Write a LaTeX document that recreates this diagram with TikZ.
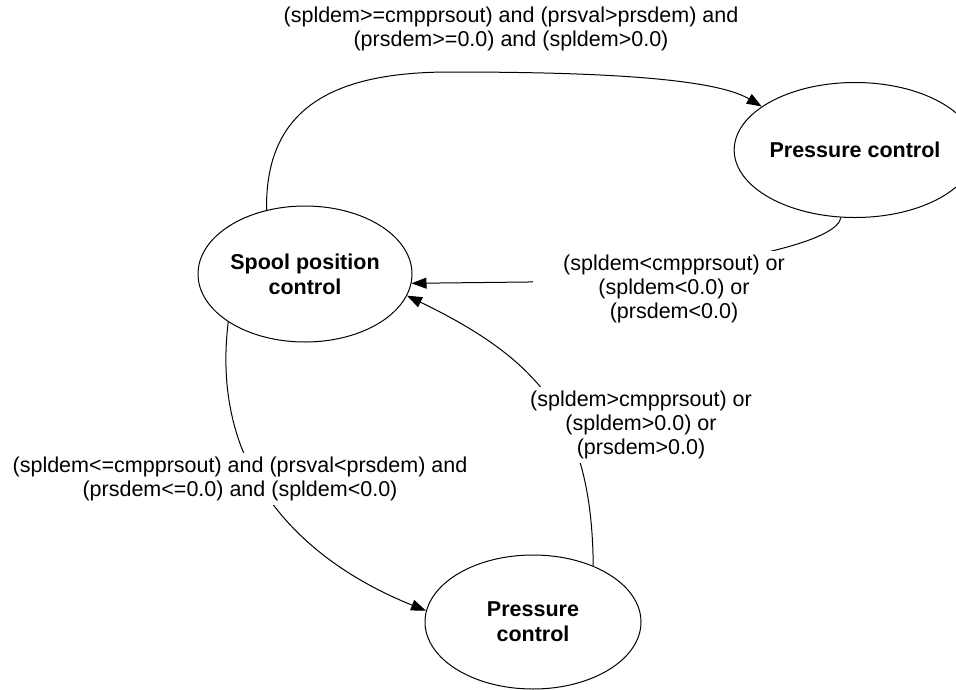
\documentclass[tikz,border=0pt]{standalone}
\usepackage{fontspec}
\setmainfont{Liberation Sans}
\usetikzlibrary{shapes.geometric,arrows.meta}
\tikzset{
  mode/.style={ellipse,draw,line width=1pt,inner sep=0pt,font=\fontsize{21.5}{25}\selectfont\bfseries,align=center},
  guard/.style={font=\fontsize{21.5}{24}\selectfont,align=center,fill=white,inner xsep=4pt,inner ysep=4pt},
  trans/.style={-{Triangle[length=15pt,width=11pt]},line width=1pt},
}

\begin{document}
\begin{tikzpicture}[x=1pt,y=-1pt]
  \useasboundingbox (0,0) rectangle (956,689);
  \node[mode,minimum width=214pt,minimum height=136pt] (spool) at (305,274) {Spool position\\control};
  \node[mode,minimum width=202pt,minimum height=135pt] (presA) at (855,150) {Pressure control};
  \node[mode,minimum width=216pt,minimum height=134pt] (presB) at (533,622) {Pressure\\control};
  \coordinate (topA) at (450,72);
  \coordinate (endB) at (528,282);
  % transitions
  \draw[trans] (spool.121) .. controls (265,110) and (330,72) .. (topA) .. controls +(130,0) and +(-50,-30) .. (presA.155);
  \draw[trans] (presA.258) .. controls (838,245) and (700,272) .. (endB) -- (spool.355);
  \draw[trans] (presB.43) .. controls (592,420) and (540,360) .. (spool.348);
  \draw[trans] (spool.212) .. controls (210,470) and (300,560) .. (presB.174);
  % guards
  \node[guard] (gTop) at (511,29) {(spldem>=cmpprsout) and (prsval>prsdem) and\\(prsdem>=0.0) and (spldem>0.0)};
  \node[guard,inner xsep=30pt] (gBack) at (674,289) {(spldem<cmpprsout) or\\(spldem<0.0) or\\(prsdem<0.0)};
  \node[guard] (gUp) at (641,425) {(spldem>cmpprsout) or\\(spldem>0.0) or\\(prsdem>0.0)};
  \node[guard] (gDown) at (240,479) {(spldem<=cmpprsout) and (prsval<prsdem) and\\(prsdem<=0.0) and (spldem<0.0)};
\end{tikzpicture}
\end{document}
